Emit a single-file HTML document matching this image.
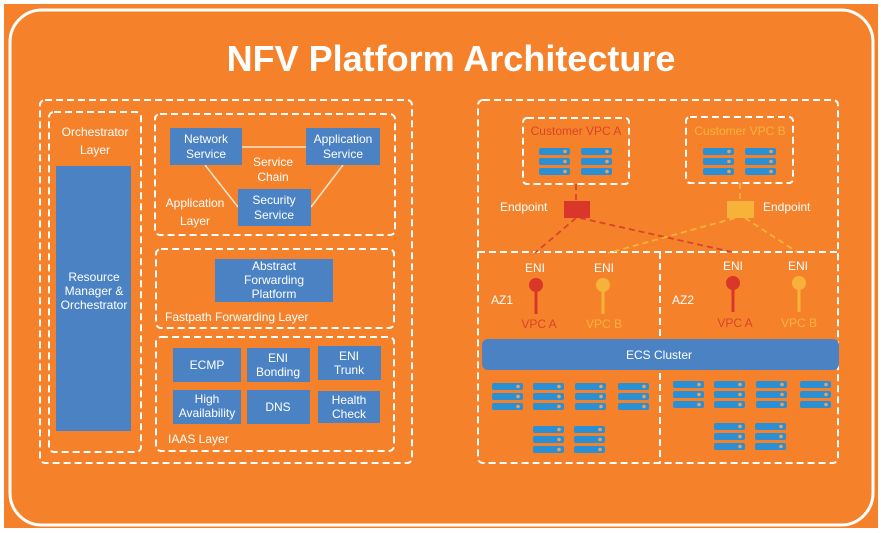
<!DOCTYPE html>
<html><head><meta charset="utf-8"><style>
html,body{margin:0;padding:0;background:#fff;width:881px;height:533px;overflow:hidden}
svg{display:block}
text{font-family:"Liberation Sans",Arial,sans-serif;fill:#fff}
</style></head><body>
<svg width="881" height="533" viewBox="0 0 881 533" xmlns="http://www.w3.org/2000/svg">
<defs>
<g id="bar"><rect x="0" y="0" width="31" height="7" rx="2" fill="#2a8fd3"/><circle cx="26" cy="3.5" r="1.8" fill="#e9a060"/></g>
<g id="srv"><use href="#bar" y="0"/><use href="#bar" y="10"/><use href="#bar" y="20"/></g>
</defs>
<rect x="4" y="4" width="874" height="524" fill="#f5822a"/>
<rect x="10" y="10" width="863" height="515" rx="32" fill="none" stroke="#fff" stroke-width="3"/>
<text x="451" y="71" font-size="36" font-weight="bold" text-anchor="middle">NFV Platform Architecture</text>

<g fill="none" stroke="#fff" stroke-width="2" stroke-dasharray="7,4">
<rect x="40" y="100" width="372" height="363" rx="5"/>
<rect x="49" y="112" width="92" height="340" rx="5"/>
<rect x="155" y="114" width="240" height="121" rx="5"/>
<rect x="156" y="249" width="238" height="79" rx="5"/>
<rect x="156" y="337" width="238" height="114" rx="5"/>
<rect x="478" y="100" width="360" height="363" rx="5"/>
<line x1="478" y1="252" x2="838" y2="252"/>
<line x1="660" y1="252" x2="660" y2="463"/>
<rect x="523" y="118" width="106" height="66" rx="4"/>
<rect x="686" y="117" width="107" height="66" rx="4"/>
</g>

<g font-size="12">
<text x="95" y="136" text-anchor="middle" fill="#fde3cc">Orchestrator</text>
<text x="95" y="154" text-anchor="middle" fill="#fde3cc">Layer</text>
<rect x="56" y="166" width="75" height="265" fill="#4a82c4"/>
<text x="94" y="281" text-anchor="middle">Resource</text>
<text x="94" y="295" text-anchor="middle">Manager &amp;</text>
<text x="94" y="309" text-anchor="middle">Orchestrator</text>
</g>

<g stroke="#fde3cc" stroke-width="1.5">
<line x1="242" y1="147" x2="306" y2="147"/>
<line x1="205" y1="165" x2="238" y2="207"/>
<line x1="343" y1="165" x2="311" y2="207"/>
</g>
<g fill="#4a82c4">
<rect x="170" y="128" width="72" height="37"/>
<rect x="306" y="128" width="74" height="37"/>
<rect x="238" y="189" width="73" height="37"/>
<rect x="215" y="259" width="118" height="43"/>
<rect x="173" y="348" width="68" height="34"/>
<rect x="247" y="348" width="63" height="34"/>
<rect x="318" y="346" width="63" height="34"/>
<rect x="173" y="390" width="68" height="34"/>
<rect x="247" y="390" width="63" height="34"/>
<rect x="318" y="391" width="62" height="32"/>
</g>
<g font-size="12" text-anchor="middle">
<text x="206" y="143">Network</text><text x="206" y="158">Service</text>
<text x="343" y="143">Application</text><text x="343" y="158">Service</text>
<text x="274" y="204">Security</text><text x="274" y="219">Service</text>
<text x="273" y="166" fill="#fde3cc">Service</text><text x="273" y="181" fill="#fde3cc">Chain</text>
<text x="195" y="207" fill="#fde3cc">Application</text><text x="195" y="225" fill="#fde3cc">Layer</text>
<text x="274" y="270">Abstract</text><text x="274" y="284">Forwarding</text><text x="274" y="298">Platform</text>
<text x="207" y="369">ECMP</text>
<text x="278" y="362">ENI</text><text x="278" y="376">Bonding</text>
<text x="349" y="360">ENI</text><text x="349" y="374">Trunk</text>
<text x="207" y="403">High</text><text x="207" y="417">Availability</text>
<text x="278" y="411">DNS</text>
<text x="349" y="404">Health</text><text x="349" y="418">Check</text>
</g>
<text x="165" y="321" font-size="12" fill="#fde3cc">Fastpath Forwarding Layer</text>
<text x="168" y="443" font-size="12" fill="#fde3cc">IAAS Layer</text>

<text x="576" y="135" font-size="12" text-anchor="middle" style="fill:#d9442a">Customer VPC A</text>
<text x="740" y="135" font-size="12" text-anchor="middle" style="fill:#f7b23a">Customer VPC B</text>
<use href="#srv" x="539" y="148"/><use href="#srv" x="581" y="148"/>
<use href="#srv" x="703" y="148"/><use href="#srv" x="745" y="148"/>

<g fill="none" stroke-width="1.8" stroke-dasharray="6,4">
<line x1="576" y1="184" x2="576" y2="201" stroke="#d9442a"/>
<line x1="740" y1="183" x2="740" y2="201" stroke="#f7b23a"/>
<line x1="576" y1="218" x2="535" y2="253" stroke="#d9442a"/>
<line x1="580" y1="218" x2="732" y2="252" stroke="#d9442a"/>
<line x1="735" y1="218" x2="608" y2="253" stroke="#f7b23a"/>
<line x1="745" y1="218" x2="797" y2="252" stroke="#f7b23a"/>
</g>
<rect x="564" y="201" width="26" height="17" fill="#d9372a"/>
<rect x="727" y="201" width="27" height="17" fill="#f7b23a"/>
<text x="500" y="211" font-size="12" fill="#fde3cc">Endpoint</text>
<text x="763" y="211" font-size="12" fill="#fde3cc">Endpoint</text>

<g font-size="12" text-anchor="middle">
<text x="535" y="272">ENI</text><text x="604" y="272">ENI</text>
<text x="733" y="270">ENI</text><text x="798" y="270">ENI</text>
<text x="539" y="328" style="fill:#d9442a">VPC A</text><text x="604" y="328" style="fill:#f7b23a">VPC B</text>
<text x="735" y="327" style="fill:#d9442a">VPC A</text><text x="799" y="327" style="fill:#f7b23a">VPC B</text>
</g>
<text x="491" y="304" font-size="12">AZ1</text>
<text x="672" y="304" font-size="12">AZ2</text>
<g stroke-width="3">
<line x1="536" y1="284" x2="536" y2="314" stroke="#d9372a"/>
<line x1="603" y1="284" x2="603" y2="314" stroke="#f7b23a"/>
<line x1="733" y1="282" x2="733" y2="312" stroke="#d9372a"/>
<line x1="799" y1="282" x2="799" y2="312" stroke="#f7b23a"/>
</g>
<circle cx="536" cy="285" r="7" fill="#d9372a"/>
<circle cx="603" cy="285" r="7" fill="#f7b23a"/>
<circle cx="733" cy="283" r="7" fill="#d9372a"/>
<circle cx="799" cy="283" r="7" fill="#f7b23a"/>

<rect x="482" y="339" width="357" height="31" rx="6" fill="#4a82c4"/>
<text x="659" y="359" font-size="12" text-anchor="middle">ECS Cluster</text>

<use href="#srv" x="492" y="383"/><use href="#srv" x="533" y="383"/><use href="#srv" x="575" y="383"/><use href="#srv" x="618" y="383"/>
<use href="#srv" x="533" y="426"/><use href="#srv" x="574" y="426"/>
<use href="#srv" x="673" y="381"/><use href="#srv" x="714" y="381"/><use href="#srv" x="756" y="381"/><use href="#srv" x="800" y="381"/>
<use href="#srv" x="714" y="423"/><use href="#srv" x="755" y="423"/>
</svg>
</body></html>
